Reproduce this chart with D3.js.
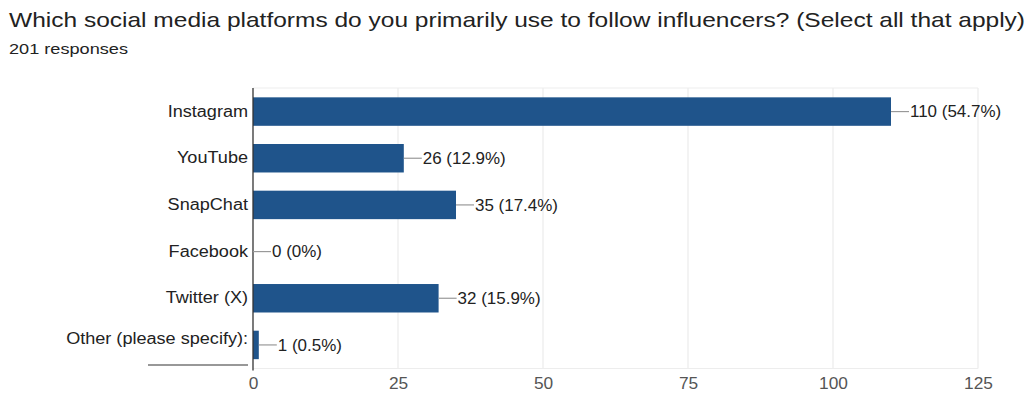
<!DOCTYPE html>
<html><head><meta charset="utf-8">
<script src="https://cdn.jsdelivr.net/npm/d3@7"></script>
<style>body{margin:0;background:#fff}svg{display:block;font-family:"Liberation Sans",Arial,sans-serif}</style>
</head><body><svg id="c" width="1031" height="396"></svg>
<script>
const categories = ["Instagram","YouTube","SnapChat","Facebook","Twitter (X)","Other (please specify):"];
const counts = [110,26,35,0,32,1];
const percents = ["54.7%","12.9%","17.4%","0%","15.9%","0.5%"];
const ticks = [0,25,50,75,100,125];
const title = "Which social media platforms do you primarily use to follow influencers? (Select all that apply)";
const subtitle = "201 responses";

const svg = d3.select("#c");
const pLeft = 253, pRight = 978, pTop = 88, pBottom = 368.5;
const x = d3.scaleLinear().domain([0,125]).range([pLeft,pRight]);
const y = d3.scaleBand().domain(categories).range([pTop,pBottom]).paddingInner(0.39).paddingOuter(0.2);

function stretch(sel, k){
  sel.each(function(){
    const n = this.getComputedTextLength();
    d3.select(this).attr("textLength", n*k).attr("lengthAdjust","spacingAndGlyphs");
  });
}

const t = svg.append("text").attr("x",9).attr("y",27).attr("font-size",21).attr("fill","#222").text(title);
t.attr("textLength",1016).attr("lengthAdjust","spacingAndGlyphs");
const st = svg.append("text").attr("x",9).attr("y",54).attr("font-size",15.5).attr("fill","#222").text(subtitle);
st.attr("textLength",119).attr("lengthAdjust","spacingAndGlyphs");

// grid
svg.append("g").selectAll("line").data(ticks.slice(1)).join("line")
  .attr("x1",d=>x(d)).attr("x2",d=>x(d)).attr("y1",pTop).attr("y2",pBottom)
  .attr("stroke","#ebebeb").attr("stroke-width",1.2);
svg.append("line").attr("x1",pLeft).attr("x2",pRight).attr("y1",pTop).attr("y2",pTop).attr("stroke","#ededed").attr("stroke-width",1.2);
svg.append("line").attr("x1",pLeft).attr("x2",pRight).attr("y1",pBottom).attr("y2",pBottom).attr("stroke","#ededed").attr("stroke-width",1.2);

// x axis
const xa = svg.append("g").attr("transform",`translate(0,${pBottom})`).call(d3.axisBottom(x).tickValues(ticks).tickSize(0).tickPadding(9));
xa.select(".domain").remove();
xa.selectAll("text").attr("font-size",16).attr("fill","#555").attr("font-family","Liberation Sans, Arial, sans-serif");
stretch(xa.selectAll("text"),1.08);

// bars
svg.append("g").selectAll("rect").data(categories).join("rect")
  .attr("x",x(0)).attr("y",d=>y(d)).attr("width",(d,i)=>x(counts[i])-x(0)).attr("height",y.bandwidth())
  .attr("fill","#1f548b");

// y axis line
svg.append("line").attr("x1",pLeft).attr("x2",pLeft).attr("y1",pTop).attr("y2",pBottom+2).attr("stroke","#333").attr("stroke-width",1.3);

// category labels
const ya = svg.append("g").attr("transform",`translate(${pLeft},0)`).call(d3.axisLeft(y).tickSize(0).tickPadding(5));
ya.select(".domain").remove();
ya.selectAll("text").attr("font-size",16).attr("fill","#222").attr("font-family","Liberation Sans, Arial, sans-serif");
ya.selectAll(".tick").filter(d=>d===categories[5]).select("text").attr("dy","-0.05em");
stretch(ya.selectAll("text"),1.13);
svg.append("line").attr("x1",148).attr("x2",248).attr("y1",365).attr("y2",365).attr("stroke","#333").attr("stroke-width",1.2);

// leader lines & value labels
const g = svg.append("g");
categories.forEach((c,i)=>{
  const xe = x(counts[i]), yc = y(c)+y.bandwidth()/2;
  g.append("line").attr("x1",xe).attr("x2",xe+18).attr("y1",yc).attr("y2",yc).attr("stroke","#999").attr("stroke-width",1.2);
  g.append("text").attr("x",xe+19).attr("y",yc).attr("dy","0.35em").attr("font-size",16).attr("fill","#222")
    .text(`${counts[i]} (${percents[i]})`);
});
stretch(g.selectAll("text"),1.06);
</script></body></html>
